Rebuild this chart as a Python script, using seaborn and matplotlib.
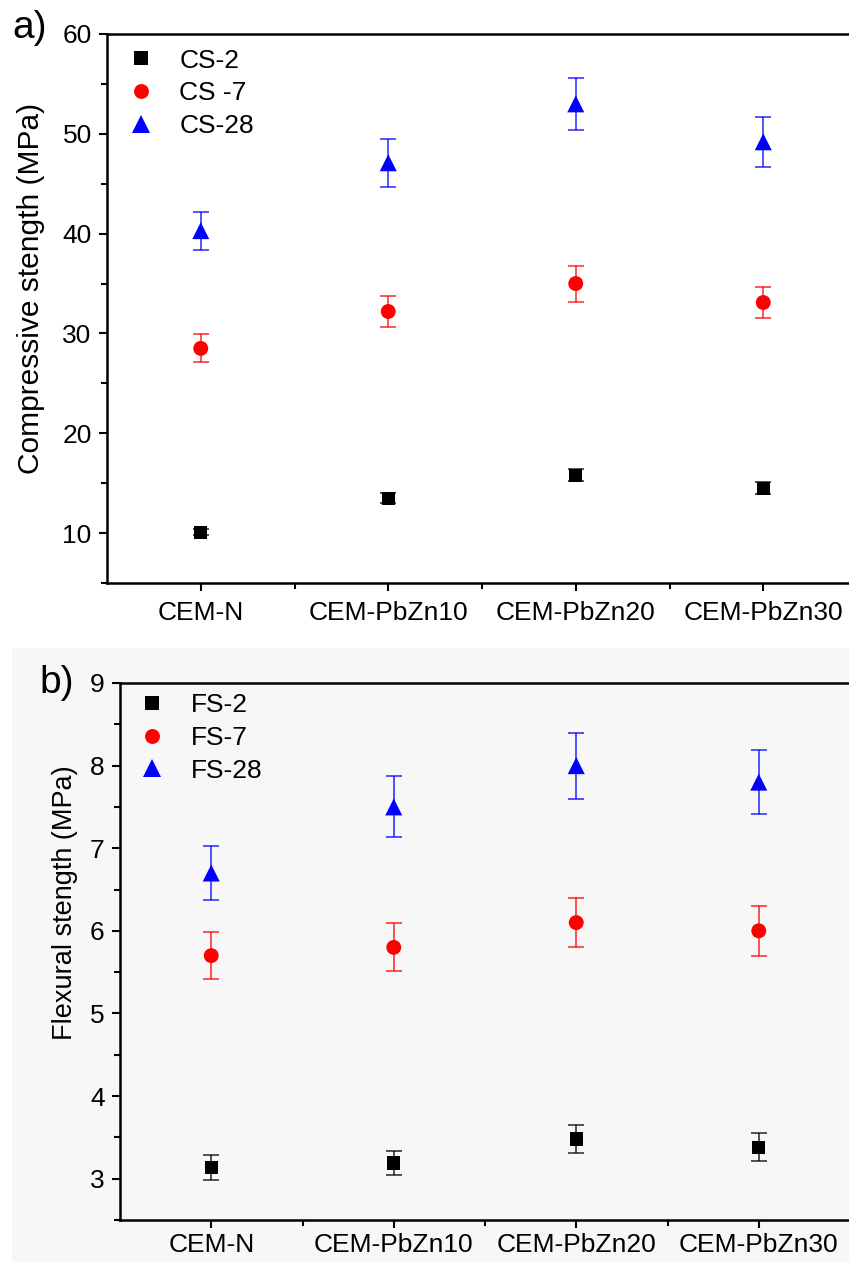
import pandas as pd
import matplotlib.pyplot as plt
import seaborn as sns
from matplotlib.patches import Rectangle
from matplotlib.ticker import MultipleLocator, FixedLocator

# Data
samples = ['CEM-N', 'CEM-PbZn10', 'CEM-PbZn20', 'CEM-PbZn30']

cs_labels = ['CS-2', 'CS -7', 'CS-28']
cs_2 = [10.1, 13.5, 15.8, 14.5]
cs_2_err = [0.3, 0.5, 0.6, 0.6]
cs_7 = [28.5, 32.2, 35.0, 33.1]
cs_7_err = [1.4, 1.6, 1.8, 1.6]
cs_28 = [40.3, 47.1, 53.0, 49.2]
cs_28_err = [1.9, 2.4, 2.6, 2.5]

fs_labels = ['FS-2', 'FS-7', 'FS-28']
fs_2 = [3.14, 3.19, 3.48, 3.38]
fs_2_err = [0.15, 0.15, 0.17, 0.17]
fs_7 = [5.7, 5.8, 6.1, 6.0]
fs_7_err = [0.28, 0.29, 0.3, 0.3]
fs_28 = [6.7, 7.5, 8.0, 7.8]
fs_28_err = [0.33, 0.37, 0.4, 0.39]

colors = ['black', '#ff0000', '#0000ff']
markers = ['s', 'o', '^']
sizes = [90, 115, 150]

sns.set_style('ticks')
plt.rcParams['font.family'] = ['Liberation Sans', 'DejaVu Sans']
plt.rcParams.update({'text.color': 'black', 'axes.labelcolor': 'black',
                     'xtick.color': 'black', 'ytick.color': 'black',
                     'axes.edgecolor': 'black'})


def make_df(labels, values, errs):
    rows = []
    for lab, vals, es in zip(labels, values, errs):
        for s, v, e in zip(samples, vals, es):
            rows.append({'sample': s, 'value': v, 'err': e, 'series': lab})
    return pd.DataFrame(rows)


def draw_panel(ax, df, labels, ylabel, ylim, major, minor, label_size, xpad,
               label_xy, leg_anchor):
    for lab, col in zip(labels, colors):
        sub = df[df['series'] == lab]
        ax.errorbar(sub['sample'], sub['value'], yerr=sub['err'], fmt='none',
                    ecolor=col, elinewidth=1.1, capsize=6, capthick=1.1,
                    alpha=0.85, zorder=2)
    sns.scatterplot(data=df, x='sample', y='value', hue='series', style='series',
                    size='series', palette=dict(zip(labels, colors)),
                    markers=dict(zip(labels, markers)),
                    sizes=dict(zip(labels, sizes)),
                    linewidth=0, ax=ax, zorder=3)
    ax.set_xlim(-0.5, 3.5)
    ax.set_ylim(*ylim)
    ax.yaxis.set_major_locator(MultipleLocator(major))
    ax.yaxis.set_minor_locator(MultipleLocator(minor))
    ax.xaxis.set_minor_locator(FixedLocator([0.5, 1.5, 2.5]))
    ax.set_xlabel('')
    ax.set_ylabel(ylabel, fontsize=label_size)
    ax.yaxis.set_label_coords(*label_xy)
    ax.tick_params(axis='both', which='major', labelsize=19, width=1.5,
                   length=6, direction='out')
    ax.tick_params(axis='both', which='minor', width=1.5, length=4,
                   direction='out')
    ax.tick_params(axis='x', pad=xpad)
    ax.tick_params(axis='y', pad=5)
    ax.spines['right'].set_visible(False)
    for sp in ['left', 'bottom', 'top']:
        ax.spines[sp].set_linewidth(1.8)
    ax.set_facecolor('none')
    handles, labs = ax.get_legend_handles_labels()
    ax.legend(handles, labs, loc='upper left', frameon=False, fontsize=19,
              handletextpad=0.45, labelspacing=0.33, borderaxespad=0.15,
              bbox_to_anchor=leg_anchor, markerscale=1.0)


fig = plt.figure(figsize=(8.49, 12.62), dpi=100)
fig.patch.set_facecolor('white')
fig.patches.append(Rectangle((12 / 849, 0), 1, 1 - 648 / 1262,
                             transform=fig.transFigure,
                             facecolor='#f7f7f7', edgecolor='none', zorder=-5))

ax1 = fig.add_axes([107 / 849, 1 - 583 / 1262, 750 / 849, 549 / 1262])
ax2 = fig.add_axes([120 / 849, 1 - 1220 / 1262, 730 / 849, 537 / 1262])

cs_df = make_df(cs_labels, [cs_2, cs_7, cs_28], [cs_2_err, cs_7_err, cs_28_err])
fs_df = make_df(fs_labels, [fs_2, fs_7, fs_28], [fs_2_err, fs_7_err, fs_28_err])

draw_panel(ax1, cs_df, cs_labels, 'Compressive stength (MPa)', (5, 60), 10, 5,
           21.5, 7, (-0.083, 0.537), (-0.009, 1.0))
draw_panel(ax2, fs_df, fs_labels, 'Flexural stength (MPa)', (2.5, 9), 1, 0.5,
           19.5, 3.5, (-0.058, 0.59), (-0.012, 1.008))

fig.text(30 / 849, 1 - 28 / 1262, 'a)', fontsize=28, ha='center', va='center')
fig.text(57 / 849, 1 - 683 / 1262, 'b)', fontsize=28, ha='center', va='center')

fig.savefig('out.png', dpi=100)
